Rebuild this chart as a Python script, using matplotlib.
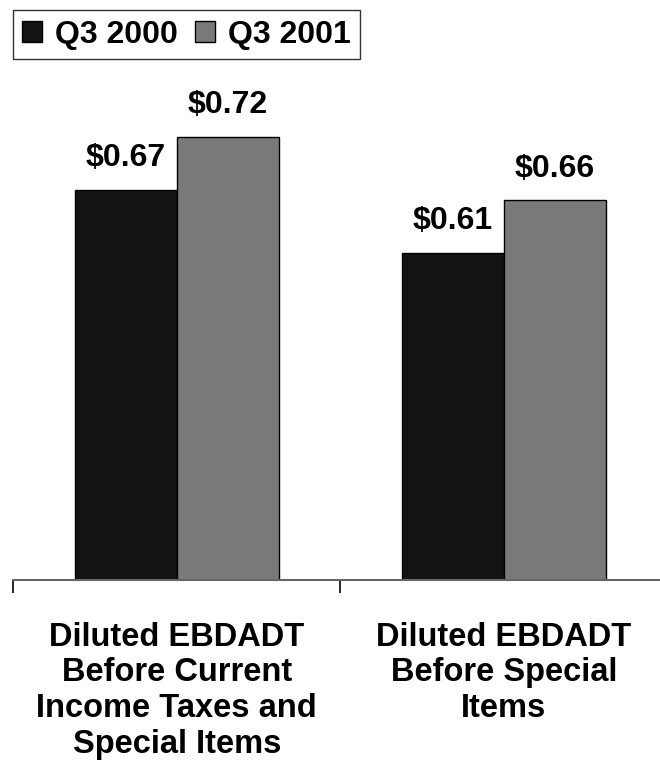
import numpy as np
import matplotlib
matplotlib.use('Agg')
from matplotlib import pyplot as plt
from matplotlib.patches import Patch

# EBDADT per diluted share, third quarter
categories = ['Diluted EBDADT\nBefore Current\nIncome Taxes and\nSpecial Items',
              'Diluted EBDADT\nBefore Special\nItems']
series_names = ['Q3 2000', 'Q3 2001']
q3_2000 = [0.67, 0.61]
q3_2001 = [0.72, 0.66]
value_labels_2000 = ['$0.67', '$0.61']
value_labels_2001 = ['$0.72', '$0.66']

colors = ['#131313', '#7a7a7a']
font = ['Liberation Sans', 'DejaVu Sans']


def draw():
    fig = plt.figure(figsize=(6.6, 7.75), dpi=100)
    ax = fig.add_axes([13.3 / 660, 195 / 775, 654 / 660, 527.5 / 775])

    x = np.arange(len(categories))
    w = 0.312
    for vals, labels, c, off in [(q3_2000, value_labels_2000, colors[0], -w / 2),
                                 (q3_2001, value_labels_2001, colors[1], w / 2)]:
        bars = ax.bar(x + off, vals, w, bottom=0, color=c, edgecolor='black',
                      linewidth=1, zorder=2)
        for b, v, t in zip(bars, vals, labels):
            ax.annotate(t, (b.get_x() + b.get_width() / 2, v),
                        xytext=(0, 12), textcoords='offset points',
                        ha='center', va='bottom', fontsize=23,
                        fontweight='bold', family=font)

    ax.set_xlim(-0.5, 1.5)
    ax.set_ylim(0.3, 0.8)

    for s in ['top', 'right', 'left']:
        ax.spines[s].set_visible(False)
    ax.spines['bottom'].set_color('#666666')
    ax.spines['bottom'].set_linewidth(1.5)
    ax.set_yticks([])

    # tick marks sit on category boundaries, labels on category centres
    ax.set_xticks([-0.5, 0.5, 1.5])
    ax.set_xticklabels([])
    ax.tick_params(axis='x', which='major', length=9, width=1.2,
                   color='black', direction='out')
    ax.set_xticks(x, minor=True)
    ax.set_xticklabels(categories, minor=True, fontsize=23.5, fontweight='bold',
                       family=font, linespacing=1.2)
    ax.tick_params(axis='x', which='minor', length=0, pad=30)

    handles = [Patch(facecolor=c, edgecolor='black', linewidth=1) for c in colors]
    leg = fig.legend(handles, series_names, loc='upper left',
                     bbox_to_anchor=(12.7 / 660, 1 - 10 / 775), ncol=2,
                     prop={'family': font, 'weight': 'bold', 'size': 23},
                     frameon=True, fancybox=False, shadow=False,
                     handlelength=0.62, handleheight=0.62, handletextpad=0.4,
                     columnspacing=0.55, borderpad=0.3, borderaxespad=0)
    leg.get_frame().set_edgecolor('black')
    leg.get_frame().set_linewidth(1)

    fig.savefig('out.png', dpi=100)


if __name__ == '__main__':
    draw()
